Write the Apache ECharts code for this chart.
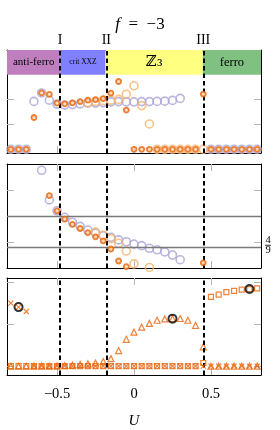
<!DOCTYPE html>
<html><head><meta charset="utf-8">
<script src="https://cdn.jsdelivr.net/npm/echarts@6/dist/echarts.min.js"></script>
<style>html,body{margin:0;padding:0;background:#fff}#c{width:280px;height:430px}</style>
</head><body><div id="c"></div>
<script>
// ---------- data ----------
const U = [-0.8,-0.75,-0.7,-0.65,-0.6,-0.55,-0.5,-0.45,-0.4,-0.35,-0.3,-0.25,-0.2,-0.15,-0.1,-0.05,0,
           0.05,0.1,0.15,0.2,0.25,0.3,0.35,0.4,0.45,0.5,0.55,0.6,0.65,0.7,0.75,0.8];
const xTickValues = [-0.5, 0, 0.5];
const phaseNames = ['anti-ferro', 'crit XXZ', 'ℤ₃', 'ferro'];
const transitionNames = ['I', 'II', 'III'];
const transitionU = [-0.478, -0.185, 0.447];
const bandY = [3, 4];

// top panel
const topLavender = [0,0,0,1.93,2.27,1.98,1.82,1.78,1.80,1.83,1.86,1.86,1.88,1.91,1.92,1.91,1.91,
                     1.92,1.92,1.93,1.94,1.97,2.05,null,null,null,0,0,0,0,0,0,0];
const topLightOrange = [null,null,null,null,null,null,null,null,null,null,1.88,1.92,1.96,1.98,2.01,2.22,2.56,
                        1.76,1.02,0,0,0,0,0,0,0,null,null,null,null,null,null,null];
const topOrange = [0,0,0,1.28,2.27,2.21,1.86,1.83,1.87,1.92,1.98,2.0,2.04,2.26,2.73,1.58,0,
                   0,0,0,0,0,0,0,0,2.22,0,0,0,0,0,0,0];
const topTicks = [0, 1, 2];

// middle panel
const midLavender = [null,null,null,null,0.588,0.531,0.51,0.4975,0.488,0.48,0.473,0.467,0.462,0.459,0.454,0.4505,0.446,
                     0.443,0.438,0.435,0.431,0.425,0.416,null,null,null,null,null,null,null,null,null,null];
const midLightOrange = [null,null,null,null,null,null,null,null,null,null,null,0.469,0.463,0.4565,0.4475,0.4327,0.408,
                        0.399,0.401,null,null,null,null,null,null,null,null,null,null,null,null,null,null];
const midOrange = [null,null,null,null,null,0.539,0.51,0.494,0.484,0.476,0.468,0.46,0.452,0.4365,0.4135,0.4025,null,
                   null,null,null,null,null,null,null,null,0.41,null,null,null,null,null,null,null];
const midTicks = [0.45, 0.5, 0.55];
const midRefLines = [0.5, 4/9];

// bottom panel
const botSquare = [0,0,0,0,0,0,0,0,0,0,0,0,0,0,0,0,0,
                   0,0,0,0,0,0,0,0,0.037,0.822,0.848,0.878,0.892,0.907,0.914,0.922];
const botTriangle = [0,0,0,0,0,0,0,0.005,0.012,0.02,0.028,0.037,0.055,0.089,0.185,0.318,0.403,
                     0.462,0.507,0.544,0.560,0.563,0.565,0.544,0.484,0.229,0,0,0,0,0,0,0];
const botCross = [0.748,0.70,0.648,0,0,0,0,0,0,0,0,0,0,0,0,0,0,
                  0,0,0,0,0,0,0,0,0,0,0,0,0,0,0,0];
const markedU = [-0.75, 0.25, 0.75];
const markedV = [0.70, 0.563, 0.914];
const botTicks = [0, 0.5, 1];

// ---------- style ----------
const SERIF = "'Liberation Serif','DejaVu Serif',serif";
const ORANGE = '#e8630a';
const LORANGE = '#f8b36c';
const LAVENDER = '#a9a4d6';
const TICKC = '#b5b5b5';
const XMIN = -0.825, XMAX = 0.825;
const grids = [
  {left: 7, right: 19, top: 50, height: 103},
  {left: 7, right: 19, top: 164, height: 104},
  {left: 7, right: 19, top: 278, height: 104}
];
const yRanges = [[-0.15, 4], [0.4, 0.6], [-0.105, 1.045]];
const yTicks = [topTicks, midTicks, botTicks];

const fmtNum = v => (v < 0 ? '−' + Math.abs(v) : String(v));

const xAxes = [], yAxes = [];
grids.forEach((g, gi) => {
  ['bottom', 'top'].forEach(pos => {
    const isLabel = gi === 2 && pos === 'bottom';
    xAxes.push({
      type: 'value', gridIndex: gi, position: pos, min: XMIN, max: XMAX,
      axisLine: {show: true, onZero: false, lineStyle: {color: '#000', width: 1}},
      axisTick: {show: true, inside: true, length: 7, customValues: xTickValues, lineStyle: {color: TICKC, width: 1}},
      axisLabel: {show: isLabel, customValues: xTickValues, formatter: fmtNum, margin: 12,
                  fontFamily: SERIF, fontSize: 14.5, color: '#000'},
      splitLine: {show: false},
      name: isLabel ? 'U' : '', nameLocation: 'middle', nameGap: 39,
      nameTextStyle: {fontFamily: SERIF, fontStyle: 'italic', fontSize: 15, color: '#000'}
    });
  });
  ['left', 'right'].forEach(pos => {
    yAxes.push({
      type: 'value', gridIndex: gi, position: pos, min: yRanges[gi][0], max: yRanges[gi][1],
      axisLine: {show: true, onZero: false, lineStyle: {color: '#000', width: 1}},
      axisTick: {show: true, inside: true, length: 7, customValues: yTicks[gi], lineStyle: {color: TICKC, width: 1}},
      axisLabel: {show: false, customValues: yTicks[gi]},
      splitLine: {show: false}
    });
  });
});

const pts = arr => U.map((u, i) => [u, arr[i]]).filter(p => p[1] !== null && p[1] !== undefined);
const hollowCircle = (color, size) => ({
  type: 'scatter', symbol: 'circle', symbolSize: size,
  itemStyle: {color: 'rgba(255,255,255,0)', borderColor: color, borderWidth: 1.6}
});
const orangeDot = {type: 'scatter', symbol: 'circle', symbolSize: 5,
  itemStyle: {color: '#fbd6b4', borderColor: ORANGE, borderWidth: 1.8}};

const series = [];

// phase bands (top panel)
const bandEdges = [XMIN, transitionU[0], transitionU[1], transitionU[2], XMAX];
const bandColors = ['#bf7fbf', '#8080ff', '#ffff80', '#80c080'];
const bandFont = [11, 7.5, 15, 12.5];
series.push({
  type: 'scatter', xAxisIndex: 0, yAxisIndex: 0, data: [], z: 1, silent: true,
  markArea: {
    silent: true,
    data: phaseNames.map((nm, i) => [
      {name: nm, xAxis: bandEdges[i], yAxis: bandY[0], itemStyle: {color: bandColors[i], opacity: 1},
       label: {show: true, position: 'inside', color: '#000', fontSize: bandFont[i],
               fontFamily: i === 2 ? "'DejaVu Serif',serif" : SERIF}},
      {xAxis: bandEdges[i + 1], yAxis: bandY[1]}
    ])
  }
});

// transition dashed lines in each panel
grids.forEach((g, gi) => {
  series.push({
    type: 'scatter', xAxisIndex: 2 * gi, yAxisIndex: 2 * gi, data: [], z: 2, silent: true,
    markLine: {
      silent: true, symbol: ['none', 'none'], animation: false,
      lineStyle: {color: '#000', type: [4.5, 3], width: 2},
      label: {show: gi === 0, position: 'end', formatter: '{b}', distance: 3,
              fontFamily: SERIF, fontSize: 14, color: '#000'},
      data: transitionU.map((u, i) => ({name: transitionNames[i], xAxis: u}))
    }
  });
});

// middle panel reference lines
series.push({
  type: 'scatter', xAxisIndex: 2, yAxisIndex: 2, data: [], z: 2, silent: true,
  markLine: {
    silent: true, symbol: ['none', 'none'], animation: false,
    lineStyle: {color: '#7a7a7a', type: 'solid', width: 1.4},
    data: [
      {yAxis: midRefLines[0], label: {show: false}},
      {yAxis: midRefLines[1], label: {show: true, position: 'end', distance: 4, offset: [0, -2],
        formatter: '{n|4}\n{bar|}\n{n|9}',
        rich: {n: {fontFamily: SERIF, fontSize: 10.5, lineHeight: 8, color: '#000', align: 'center'},
               bar: {width: 6, height: 0.8, backgroundColor: '#000', lineHeight: 2, align: 'center'}}}}
    ]
  }
});

// top panel points
series.push(Object.assign(hollowCircle(LAVENDER, 8), {xAxisIndex: 0, yAxisIndex: 0, z: 3, data: pts(topLavender)}));
series.push(Object.assign(hollowCircle(LORANGE, 8), {xAxisIndex: 0, yAxisIndex: 0, z: 4, data: pts(topLightOrange)}));
series.push(Object.assign({}, orangeDot, {xAxisIndex: 0, yAxisIndex: 0, z: 5, data: pts(topOrange)}));

// middle panel points
series.push(Object.assign(hollowCircle(LAVENDER, 8), {xAxisIndex: 2, yAxisIndex: 2, z: 3, data: pts(midLavender)}));
series.push(Object.assign(hollowCircle(LORANGE, 8), {xAxisIndex: 2, yAxisIndex: 2, z: 4, data: pts(midLightOrange)}));
series.push(Object.assign({}, orangeDot, {xAxisIndex: 2, yAxisIndex: 2, z: 5, data: pts(midOrange)}));

// bottom panel points
series.push({type: 'scatter', xAxisIndex: 4, yAxisIndex: 4, z: 3, symbol: 'rect', symbolSize: 5,
  itemStyle: {color: 'rgba(255,255,255,0)', borderColor: ORANGE, borderWidth: 1.2}, data: pts(botSquare)});
series.push({type: 'scatter', xAxisIndex: 4, yAxisIndex: 4, z: 4, symbol: 'triangle', symbolSize: 6,
  itemStyle: {color: 'rgba(255,255,255,0)', borderColor: ORANGE, borderWidth: 1.2}, data: pts(botTriangle)});
series.push({type: 'scatter', xAxisIndex: 4, yAxisIndex: 4, z: 5, symbol: 'path://M0,0L10,10M10,0L0,10', symbolSize: 5,
  itemStyle: {color: 'rgba(255,255,255,0)', borderColor: ORANGE, borderWidth: 1.2}, data: pts(botCross)});
series.push({type: 'scatter', xAxisIndex: 4, yAxisIndex: 4, z: 6, symbol: 'circle', symbolSize: 8,
  itemStyle: {color: 'rgba(255,255,255,0)', borderColor: '#000', borderWidth: 2},
  data: markedU.map((u, i) => [u, markedV[i]])});

const option = {
  animation: false,
  backgroundColor: '#fff',
  title: {
    text: '{i|f}\u2002=\u2002−3', left: 'center', top: 11,
    textStyle: {fontFamily: SERIF, fontSize: 17, fontWeight: 'normal', color: '#000',
      rich: {i: {fontFamily: SERIF, fontSize: 17, fontStyle: 'italic', color: '#000'}}}
  },
  grid: grids,
  xAxis: xAxes,
  yAxis: yAxes,
  series: series
};
const chart = echarts.init(document.getElementById('c'), null, {renderer: 'canvas'});
chart.setOption(option);
</script>
</body></html>
